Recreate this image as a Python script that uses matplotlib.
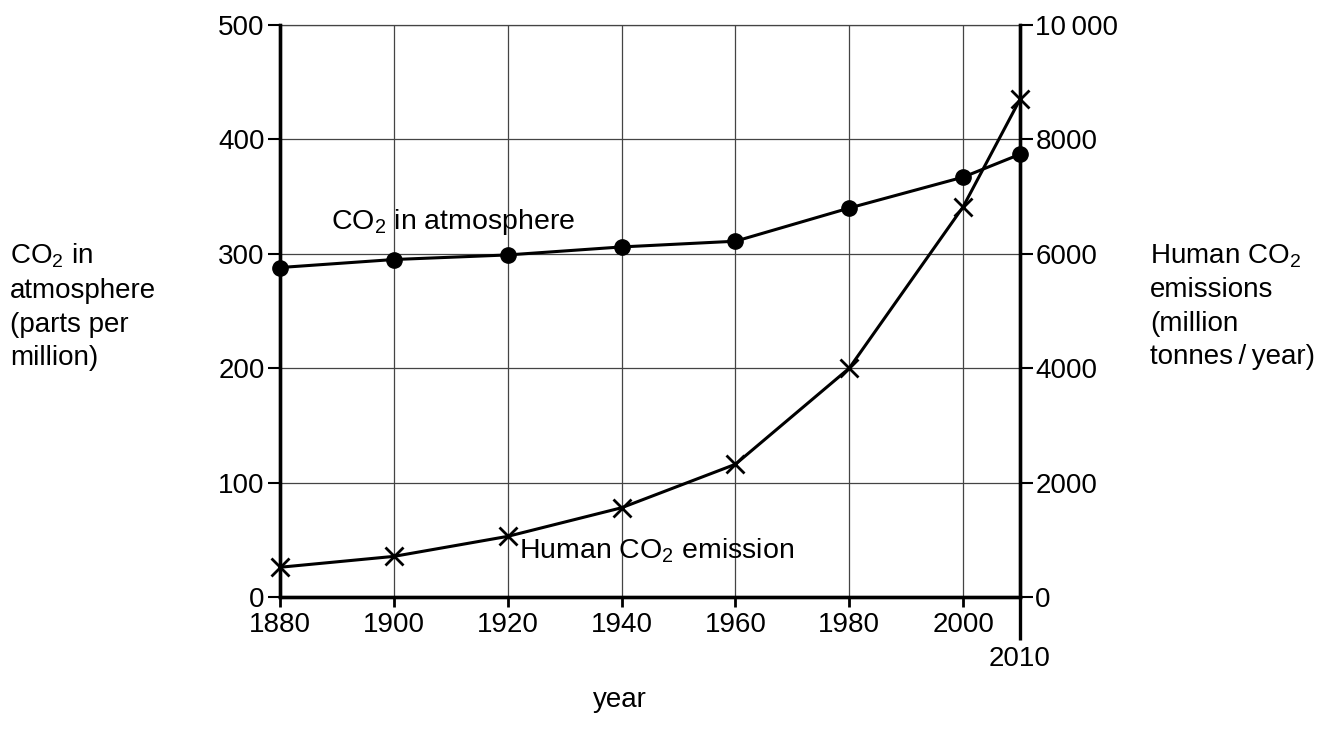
import matplotlib
matplotlib.use("Agg")
import matplotlib.pyplot as plt
from matplotlib.ticker import FixedLocator

plt.rcParams["font.family"] = ["Liberation Sans", "DejaVu Sans"]
plt.rcParams["mathtext.fontset"] = "custom"
plt.rcParams["mathtext.rm"] = "Liberation Sans"
plt.rcParams["mathtext.it"] = "Liberation Sans"

years = [1880, 1900, 1920, 1940, 1960, 1980, 2000, 2010]
co2_ppm = [288, 295, 299, 306, 311, 340, 367, 387]
emissions = [520, 710, 1060, 1560, 2320, 4000, 6820, 8700]

x_ticks = [1880, 1900, 1920, 1940, 1960, 1980, 2000]
left_ticks = [0, 100, 200, 300, 400, 500]
right_ticks = [0, 2000, 4000, 6000, 8000, 10000]
right_labels = ["0", "2000", "4000", "6000", "8000", "10\u2009000"]

W, H = 1338, 742
fig = plt.figure(figsize=(W / 100, H / 100), dpi=100)
ax = fig.add_axes([280 / W, 1 - 597 / H, 740 / W, 572 / H])
ax2 = ax.twinx()

fs = 20

ax.plot(years, co2_ppm, color="black", linewidth=2.2, marker="o",
        markersize=11, zorder=5, clip_on=False)
ax2.plot(years, emissions, color="black", linewidth=2.2, marker="x",
         markersize=13, markeredgewidth=2, zorder=5, clip_on=False)

ax.set_xlim(1880, 2010)
ax.set_ylim(0, 500)
ax2.set_ylim(0, 10000)

ax.xaxis.set_major_locator(FixedLocator(x_ticks))
ax.xaxis.set_minor_locator(FixedLocator([2010]))
ax.set_xticklabels([str(v) for v in x_ticks])
ax.set_xticklabels(["2010"], minor=True)
ax.set_yticks(left_ticks)
ax.set_yticklabels([str(v) for v in left_ticks])
ax2.set_yticks(right_ticks)
ax2.set_yticklabels(right_labels)

ax.tick_params(axis="x", which="major", direction="out", length=7, width=2,
               labelsize=fs, pad=4)
ax.tick_params(axis="x", which="minor", direction="out", length=31, width=2.4,
               labelsize=fs, pad=4)
ax.tick_params(axis="y", direction="out", length=9, width=1.5, labelsize=fs, pad=2)
ax2.tick_params(axis="y", direction="out", length=9, width=1.5, labelsize=fs, pad=2)

ax.grid(True, which="major", color="#444444", linewidth=0.9)
ax.set_axisbelow(True)

for a in (ax, ax2):
    a.spines["top"].set_visible(False)
    a.spines["left"].set_linewidth(2.4)
    a.spines["right"].set_linewidth(2.4)
    a.spines["bottom"].set_linewidth(2.4)
ax.plot([1880, 2010], [500, 500], color="#444444", linewidth=0.9, zorder=1,
        clip_on=False)

ax.text(1889, 322, "CO$_2$ in atmosphere", fontsize=20.5, ha="left", va="baseline")
ax.text(1922, 34, "Human CO$_2$ emission", fontsize=20.5, ha="left", va="baseline")

fig.text(10 / W, 1 - 242 / H,
         "CO$_2$ in\natmosphere\n(parts per\nmillion)",
         fontsize=fs, ha="left", va="top", linespacing=1.38)
fig.text(1150 / W, 1 - 242 / H,
         "Human CO$_2$\nemissions\n(million\ntonnes\u2009/\u2009year)",
         fontsize=fs, ha="left", va="top", linespacing=1.38)
fig.text(620 / W, 1 - 707 / H, "year", fontsize=fs, ha="center", va="baseline")

plt.savefig("out.png", dpi=100)
plt.close()
